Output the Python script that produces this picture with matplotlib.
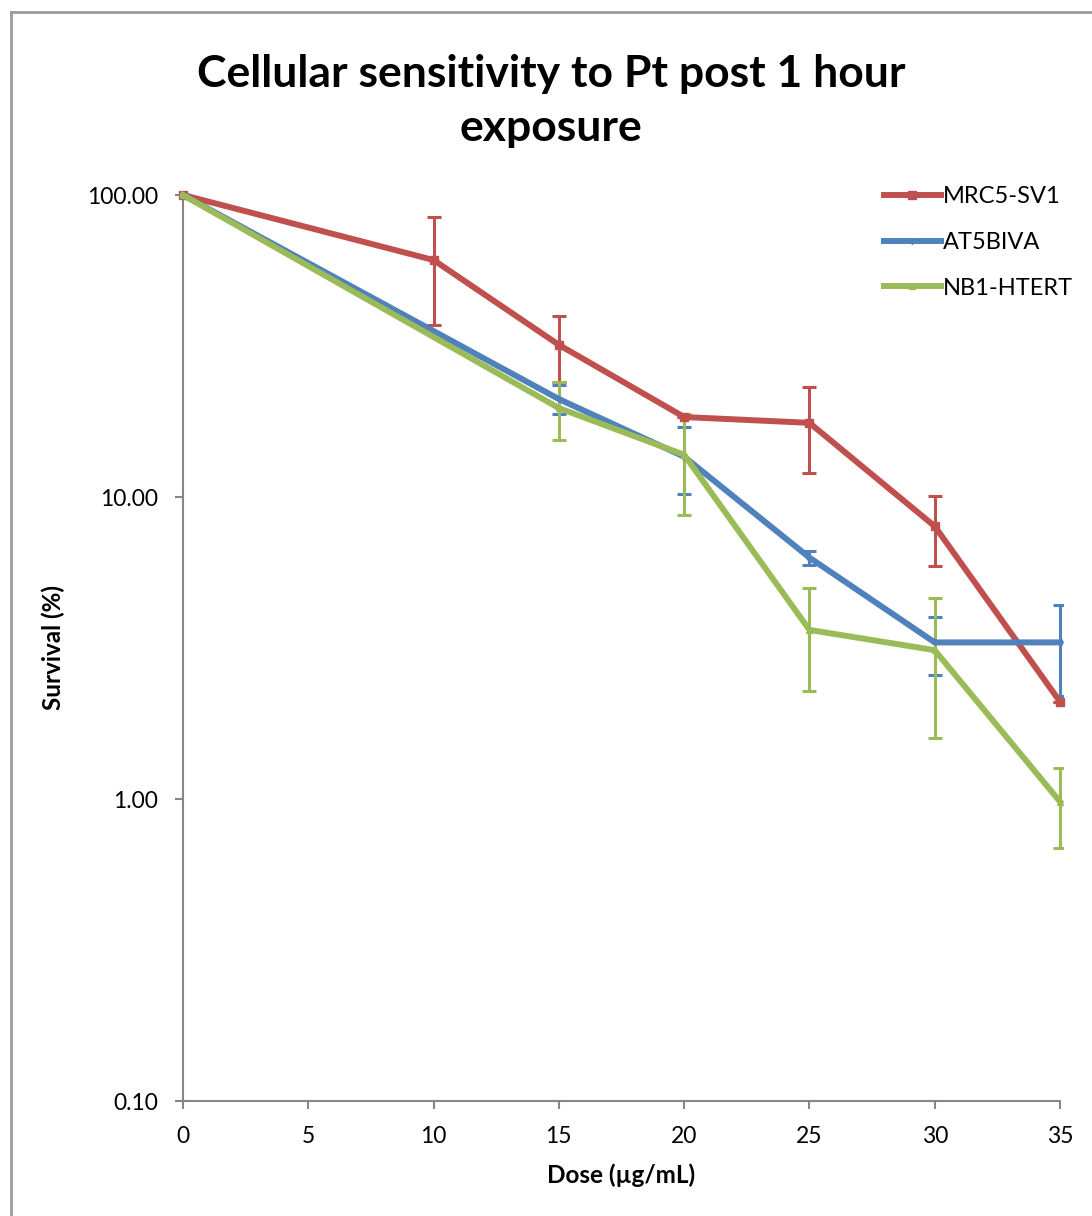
import numpy as np
import matplotlib.pyplot as plt
from matplotlib.lines import Line2D
from matplotlib.patches import Rectangle

# Dose values (ug/mL)
dose_mrc5 = [0, 10, 15, 20, 25, 30, 35]
dose_other = [0, 15, 20, 25, 30, 35]

# Survival (%)
mrc5 = [100, 60.9, 31.9, 18.4, 17.6, 8.0, 2.1]
mrc5_err = [0, 23.7, 7.9, 0, 5.6, 2.1, 0]

at5biva = [100, 21.1, 13.6, 6.3, 3.3, 3.3]
at5biva_err = [0, 2.3, 3.4, 0.33, 0.72, 1.1]

nb1 = [100, 19.7, 13.8, 3.63, 3.11, 0.98]
nb1_err = [0, 4.3, 5.1, 1.36, 1.52, 0.29]

labels = ["MRC5-SV1", "AT5BIVA", "NB1-HTERT"]
colors = ["#C0504D", "#4F81BD", "#9BBB59"]
x_ticks = [0, 5, 10, 15, 20, 25, 30, 35]
y_ticks = [0.1, 1, 10, 100]

plt.rcParams['font.family'] = ['Lato', 'DejaVu Sans']

fig = plt.figure(figsize=(10.92, 12.16), dpi=100)
ax = fig.add_axes([183 / 1092, 1 - 1101 / 1216, (1060 - 183) / 1092, (1101 - 195) / 1216])

# clip box a little wider than the axes so the bars at x=35 stay visible
clip = Rectangle((0, -0.01), 1 + 3 / 877, 1.02, transform=ax.transAxes, visible=False)
ax.add_patch(clip)

series = [
    (dose_mrc5, mrc5, mrc5_err, 's', 6),
    (dose_other, at5biva, at5biva_err, 'D', 3),
    (dose_other, nb1, nb1_err, '^', 5),
]
handles = []
for (xs, ys, es, mk, ms), lab, c in zip(series, labels, colors):
    line, caps, bars = ax.errorbar(xs, ys, yerr=es, color=c, lw=4.3, marker=mk, ms=ms,
                                   ecolor=c, elinewidth=2.2, capsize=5, capthick=2.2, zorder=3)
    line.set_clip_on(False)
    for a in list(caps) + list(bars):
        a.set_clip_path(clip)
    handles.append(Line2D([0], [0], color=c, lw=4.3, marker=mk, ms=ms, label=lab))

ax.set_yscale('log')
ax.set_xlim(0, 35)
ax.set_ylim(0.1, 100)
ax.set_xticks(x_ticks)
ax.set_yticks(y_ticks)
ax.set_yticklabels([f"{v:.2f}" for v in y_ticks])
ax.yaxis.set_minor_locator(plt.NullLocator())

for s in ['top', 'right']:
    ax.spines[s].set_visible(False)
for s in ['left', 'bottom']:
    ax.spines[s].set_color('#868686')
    ax.spines[s].set_linewidth(1.5)
ax.tick_params(axis='both', colors='#868686', labelcolor='black', length=6, width=1.5,
               labelsize=16.5, pad=12)

ax.set_xlabel("Dose (µg/mL)", fontsize=17.5, fontweight='bold', labelpad=12)
ax.set_ylabel("Survival (%)", fontsize=17.5, fontweight='bold', labelpad=16)

fig.text(551 / 1092, 1 - 101 / 1216, "Cellular sensitivity to Pt post 1 hour\nexposure",
         ha='center', va='center', fontsize=32, fontweight='bold', linespacing=1.42)

leg = ax.legend(handles=handles, loc='upper left', bbox_to_anchor=(884 / 1092, 1 - 186 / 1216),
                bbox_transform=fig.transFigure, frameon=False, fontsize=17,
                handlelength=2.4, handletextpad=0.1, labelspacing=1.05, borderpad=0,
                borderaxespad=0)

# outer chart border
fig.add_artist(Line2D([11 / 1092, 11 / 1092], [0, 1 - 12 / 1216], color='#9a9a9a', lw=2,
                      transform=fig.transFigure))
fig.add_artist(Line2D([11 / 1092, 1], [1 - 12 / 1216, 1 - 12 / 1216], color='#9a9a9a', lw=2,
                      transform=fig.transFigure))

fig.savefig("out.png", dpi=100)
